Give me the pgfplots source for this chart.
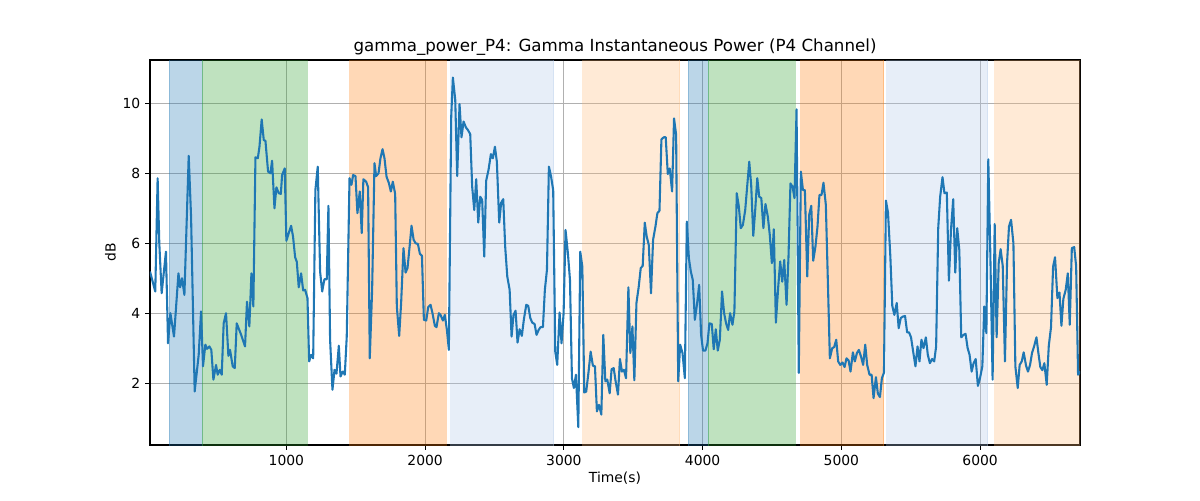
\documentclass[border=0pt]{standalone}
\usepackage{pgfplots}
\pgfplotsset{compat=1.18}
\usepackage{fontspec}
\setmainfont{DejaVu Sans}
\definecolor{tabblue}{HTML}{1F77B4}
\definecolor{tabgreen}{HTML}{2CA02C}
\definecolor{taborange}{HTML}{FF7F0E}
\definecolor{ltblue}{HTML}{AEC7E8}
\definecolor{ltorange}{HTML}{FFBB78}
\definecolor{gridgray}{HTML}{B0B0B0}
\begin{document}
\begin{tikzpicture}
\begin{axis}[
  at={(0,0)}, anchor=south west,
  scale only axis, width=669.6pt, height=277.2pt,
  xmin=17, xmax=6720, ymin=0.23, ymax=11.24,
  xtick={1000,2000,3000,4000,5000,6000},
  ytick={2,4,6,8,10},
  grid=major,
  major grid style={color=gridgray, line width=0.8pt},
  tick align=outside, major tick length=3.5pt,
  tick style={black, line width=0.8pt},
  xtick pos=bottom, ytick pos=left,
  axis line style={black, line width=0.8pt},
  every tick label/.append style={font=\fontsize{10}{12}\selectfont},
  /pgf/number format/assume math mode=true,
  /pgf/number format/1000 sep={},
  title={gamma\_power\_P4: Gamma Instantaneous Power (P4 Channel)},
  title style={font=\fontsize{12}{14}\selectfont, at={(0.5,1)}, anchor=south, yshift=-6pt},
  xlabel={Time(s)}, ylabel={dB},
  label style={font=\fontsize{10}{12}\selectfont},
  xlabel style={yshift=2pt},
  ylabel style={yshift=-2pt},
]
% spans
\addplot[draw=tabblue, draw opacity=0.3, fill=tabblue, fill opacity=0.3, line width=0.7pt] coordinates {(156,-1) (156,13) (392,13) (392,-1)} -- cycle;
\addplot[draw=tabgreen, draw opacity=0.3, fill=tabgreen, fill opacity=0.3, line width=0.7pt] coordinates {(392,-1) (392,13) (1149,13) (1149,-1)} -- cycle;
\addplot[draw=taborange, draw opacity=0.3, fill=taborange, fill opacity=0.3, line width=0.7pt] coordinates {(1455,-1) (1455,13) (2152,13) (2152,-1)} -- cycle;
\addplot[draw=ltblue, draw opacity=0.3, fill=ltblue, fill opacity=0.3, line width=0.7pt] coordinates {(2183,-1) (2183,13) (2926,13) (2926,-1)} -- cycle;
\addplot[draw=ltorange, draw opacity=0.3, fill=ltorange, fill opacity=0.3, line width=0.7pt] coordinates {(3135,-1) (3135,13) (3834,13) (3834,-1)} -- cycle;
\addplot[draw=tabblue, draw opacity=0.3, fill=tabblue, fill opacity=0.3, line width=0.7pt] coordinates {(3895,-1) (3895,13) (4039,13) (4039,-1)} -- cycle;
\addplot[draw=tabgreen, draw opacity=0.3, fill=tabgreen, fill opacity=0.3, line width=0.7pt] coordinates {(4039,-1) (4039,13) (4669,13) (4669,-1)} -- cycle;
\addplot[draw=taborange, draw opacity=0.3, fill=taborange, fill opacity=0.3, line width=0.7pt] coordinates {(4707,-1) (4707,13) (5306,13) (5306,-1)} -- cycle;
\addplot[draw=ltblue, draw opacity=0.3, fill=ltblue, fill opacity=0.3, line width=0.7pt] coordinates {(5328,-1) (5328,13) (6054,13) (6054,-1)} -- cycle;
\addplot[draw=ltorange, draw opacity=0.3, fill=ltorange, fill opacity=0.3, line width=0.7pt] coordinates {(6106,-1) (6106,13) (6800,13) (6800,-1)} -- cycle;
% signal
\addplot[color=tabblue, line width=1.5pt, mark=none, line join=round] coordinates {
(17,5.19)(55,4.62)(72,7.86)(84,6.0)(101,4.57)(132,5.76)(147,3.14)(164,4.0)(190,3.33)(222,5.14)(234,4.74)(248,5.0)(265,4.52)(296,8.5)(313,6.76)(339,1.76)(368,2.81)(385,4.05)(399,2.48)(416,3.1)(428,2.98)(445,3.05)(459,2.95)(474,2.1)(493,2.52)(505,2.24)(520,2.38)(534,2.24)(548,3.71)(565,4.0)(582,2.78)(594,2.95)(613,2.48)(628,2.43)(642,3.71)(674,3.38)(702,3.05)(716,4.33)(733,3.62)(748,5.14)(762,4.19)(777,8.46)(794,8.43)(806,8.76)(822,9.54)(837,8.95)(849,8.93)(868,8.05)(885,8.0)(897,8.36)(914,7.0)(928,7.6)(945,7.43)(960,7.41)(969,7.95)(988,8.14)(1000,6.07)(1017,6.29)(1034,6.5)(1048,6.19)(1063,5.6)(1075,5.47)(1089,4.74)(1106,5.14)(1121,4.65)(1135,4.67)(1152,4.43)(1164,2.62)(1178,2.81)(1193,2.71)(1209,7.52)(1226,8.19)(1243,5.19)(1258,4.62)(1274,4.97)(1291,4.97)(1303,7.07)(1315,3.24)(1332,1.81)(1347,2.38)(1361,2.27)(1378,3.07)(1390,2.19)(1407,2.33)(1421,2.24)(1435,3.33)(1455,7.86)(1469,7.67)(1481,7.95)(1498,7.92)(1512,6.86)(1529,7.48)(1543,6.29)(1555,7.83)(1575,7.76)(1589,7.6)(1601,2.71)(1618,4.67)(1635,8.29)(1647,7.92)(1664,8.0)(1678,8.43)(1693,8.69)(1707,8.43)(1722,7.9)(1738,7.73)(1753,7.48)(1767,7.76)(1784,7.41)(1796,4.19)(1813,3.35)(1827,4.29)(1844,5.86)(1859,5.16)(1873,5.29)(1888,5.9)(1902,6.5)(1917,6.1)(1931,6.0)(1948,5.98)(1962,5.7)(1977,5.64)(1991,3.81)(2008,3.79)(2022,4.17)(2039,4.24)(2053,4.0)(2070,3.64)(2082,3.6)(2099,4.0)(2111,3.95)(2128,3.79)(2142,3.95)(2157,3.52)(2171,2.95)(2188,9.62)(2200,10.74)(2217,10.1)(2231,7.92)(2248,9.98)(2262,9.03)(2277,9.48)(2294,9.31)(2308,9.24)(2325,9.12)(2339,7.62)(2354,6.95)(2368,7.83)(2383,6.59)(2397,7.33)(2411,7.24)(2426,5.62)(2440,7.79)(2457,8.1)(2474,8.55)(2488,8.43)(2503,8.76)(2517,8.33)(2534,6.59)(2548,7.16)(2563,7.26)(2577,5.9)(2592,5.05)(2609,4.67)(2623,3.33)(2637,3.95)(2652,4.07)(2666,3.16)(2681,3.54)(2697,3.35)(2712,3.83)(2729,4.24)(2743,4.21)(2758,3.86)(2772,3.73)(2789,3.69)(2803,3.38)(2818,3.52)(2832,3.6)(2849,3.6)(2863,4.67)(2878,5.24)(2892,8.19)(2907,7.92)(2923,7.52)(2938,2.9)(2952,2.52)(2969,4.02)(2983,3.14)(2998,4.0)(3012,6.38)(3029,5.71)(3044,4.95)(3058,2.14)(3072,1.86)(3087,2.24)(3104,0.74)(3118,5.76)(3133,5.33)(3147,1.73)(3161,1.76)(3178,2.33)(3193,2.9)(3209,2.5)(3224,2.48)(3238,1.19)(3253,1.38)(3270,1.1)(3284,3.38)(3299,2.05)(3313,2.1)(3330,1.71)(3344,2.4)(3359,2.43)(3373,2.05)(3390,1.67)(3404,2.69)(3419,2.33)(3433,2.38)(3448,2.14)(3465,4.74)(3479,2.86)(3494,3.62)(3508,2.08)(3523,4.29)(3539,4.74)(3554,5.29)(3568,5.35)(3583,6.59)(3597,6.19)(3612,5.95)(3628,4.57)(3643,6.1)(3660,6.48)(3674,6.86)(3689,6.93)(3703,8.97)(3720,9.03)(3734,9.03)(3749,7.98)(3763,8.14)(3780,7.48)(3794,9.57)(3809,9.1)(3824,2.05)(3838,3.1)(3855,2.86)(3872,2.14)(3886,6.62)(3901,5.57)(3915,5.19)(3929,4.95)(3944,3.81)(3960,4.27)(3975,4.81)(3989,3.38)(4003,2.93)(4020,2.93)(4035,3.14)(4049,3.71)(4066,3.69)(4080,2.97)(4095,3.54)(4109,2.93)(4124,3.24)(4140,4.62)(4155,4.0)(4169,3.71)(4184,3.52)(4198,4.0)(4215,3.67)(4229,4.05)(4246,7.43)(4261,7.05)(4275,6.43)(4290,6.52)(4307,6.95)(4321,7.62)(4336,8.33)(4350,7.67)(4365,6.21)(4379,6.95)(4394,7.86)(4408,7.33)(4423,7.29)(4438,6.43)(4453,7.12)(4470,6.76)(4484,6.24)(4499,5.43)(4513,6.4)(4528,3.73)(4545,4.76)(4559,5.48)(4574,4.9)(4588,5.52)(4605,4.24)(4619,5.62)(4633,7.71)(4648,7.62)(4662,7.29)(4677,9.83)(4693,2.29)(4708,8.05)(4723,7.52)(4737,7.52)(4754,5.05)(4768,6.81)(4783,7.07)(4797,5.5)(4813,5.9)(4828,6.48)(4842,7.38)(4857,7.38)(4871,7.73)(4888,7.1)(4903,4.86)(4917,2.71)(4934,3.0)(4948,3.03)(4963,3.24)(4977,2.62)(4992,2.52)(5008,2.59)(5023,2.46)(5037,2.71)(5052,2.65)(5066,2.33)(5083,2.88)(5097,2.62)(5112,2.86)(5126,2.95)(5143,2.74)(5157,2.52)(5172,3.1)(5186,2.52)(5203,2.24)(5218,2.24)(5232,1.57)(5249,2.17)(5263,1.7)(5278,1.6)(5292,2.14)(5307,2.3)(5321,7.22)(5336,6.88)(5353,5.62)(5367,4.21)(5382,3.95)(5399,4.29)(5413,3.57)(5428,3.86)(5442,3.9)(5459,3.92)(5474,3.45)(5488,3.45)(5502,3.31)(5519,2.86)(5534,2.48)(5549,3.05)(5563,2.62)(5577,3.24)(5592,3.0)(5609,3.31)(5623,2.81)(5638,2.57)(5654,2.69)(5669,2.62)(5683,3.05)(5698,6.43)(5712,7.33)(5729,7.89)(5743,7.43)(5760,7.45)(5775,4.93)(5790,6.38)(5806,7.26)(5821,5.16)(5835,6.43)(5850,5.81)(5864,3.31)(5881,3.38)(5895,3.41)(5910,3.0)(5924,2.81)(5939,2.33)(5953,2.57)(5968,2.69)(5984,1.92)(5999,2.14)(6016,2.48)(6030,4.19)(6045,3.43)(6059,8.4)(6073,5.81)(6090,2.1)(6105,6.55)(6119,3.31)(6134,5.43)(6148,5.83)(6163,5.35)(6179,2.62)(6194,5.43)(6208,6.48)(6223,6.67)(6240,6.0)(6254,2.48)(6271,1.86)(6285,2.52)(6300,2.62)(6314,2.88)(6331,2.5)(6345,2.33)(6360,2.52)(6374,2.86)(6389,3.05)(6406,3.31)(6420,2.86)(6434,2.46)(6449,2.37)(6463,2.57)(6480,1.95)(6495,3.07)(6511,3.6)(6526,5.33)(6540,5.6)(6557,4.43)(6572,4.59)(6586,3.64)(6600,4.41)(6617,4.67)(6632,5.14)(6646,3.67)(6661,5.86)(6678,5.89)(6692,5.35)(6706,2.24)(6723,2.33)
};
\end{axis}
\pgfresetboundingbox
\path (-108pt,-39.6pt) rectangle (756pt,320.4pt);
\end{tikzpicture}
\end{document}
